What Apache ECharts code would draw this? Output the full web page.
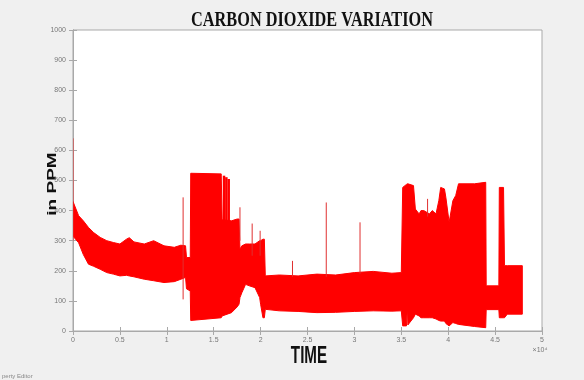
<!DOCTYPE html>
<html>
<head>
<meta charset="utf-8">
<script src="https://cdn.jsdelivr.net/npm/echarts@6/dist/echarts.min.js"></script>
<style>
  html, body { margin: 0; padding: 0; background: #f0f0f0; }
  #chart { width: 584px; height: 380px; }
</style>
</head>
<body>
<div id="chart"></div>
<script>
// envelope of the CO2 trace (time in raw units, ppm)
const times = [0, 600, 1100, 1650, 2200, 2900, 3600, 4300, 5000, 5700, 6000, 6500, 7600, 8600, 9700, 10800, 11500, 12000, 12100, 12500,
  12550, 15800, 15900, 16900, 17500, 17700, 17800, 18000, 18400, 18800, 19400, 19900, 20000, 20250, 20400, 20500,
  22000, 24000, 26000, 28000, 30000, 32000, 34000, 35000,
  35150, 35550, 35650, 35700, 36300, 36500, 36900, 37100, 37400, 38000, 38300, 38700, 39000, 39200, 39600, 39750, 40100,
  40500, 40800, 41100, 42800, 44000, 44050, 45400, 45450, 45900, 46000, 46300, 47900];
const upperPpm = [430, 383, 366, 344, 327, 311, 300, 294, 289, 305, 310, 296, 289, 300, 283, 278, 285, 283, 244, 244,
  524, 522, 370, 366, 372, 372, 272, 283, 289, 289, 289, 300, 300, 305, 305, 183,
  186, 183, 189, 186, 194, 198, 192, 194,
  477, 487, 489, 489, 483, 405, 389, 400, 400, 389, 400, 389, 433, 477, 472, 444, 361,
  433, 450, 489, 489, 494, 150, 150, 477, 477, 217, 217, 217];
const lowerPpm = [315, 293, 254, 222, 215, 205, 194, 189, 183, 185, 183, 180, 172, 167, 161, 164, 172, 178, 140, 133,
  35, 44, 50, 61, 80, 89, 111, 127, 155, 150, 144, 111, 89, 44, 44, 72,
  67, 65, 61, 62, 65, 67, 66, 67,
  17, 17, 85, 20, 44, 56, 50, 44, 44, 44, 44, 40, 35, 33, 33, 25, 17,
  28, 25, 22, 15, 11, 71, 71, 44, 44, 44, 56, 56];

// thin isolated spikes: [time, low, high]
const spikes = [
  [0, 300, 640], [11740, 105, 444], [17800, 300, 411], [19100, 250, 357], [19950, 250, 333],
  [23400, 180, 233], [27000, 180, 427], [30600, 190, 361], [37800, 380, 439]
];
// the heavier bursts just after the 520 ppm block
const bursts = [[16100, 300, 516], [16350, 300, 511], [16600, 300, 505]];

const chart = echarts.init(document.getElementById("chart"), null, { renderer: "canvas" });

const axisGray = "#a9a9a9";
const labelStyle = { fontSize: 7, color: "#777", fontFamily: "Liberation Sans" };

const spikeSeries = (data, color, width) => ({
  type: "custom",
  xAxisIndex: 0,
  yAxisIndex: 0,
  clip: true,
  data: data,
  renderItem: (params, api) => {
    const a = api.coord([api.value(0), api.value(1)]);
    const b = api.coord([api.value(0), api.value(2)]);
    return {
      type: "line",
      shape: { x1: a[0], y1: a[1], x2: b[0], y2: b[1] },
      style: { stroke: color, lineWidth: width },
    };
  },
});

const option = {
  backgroundColor: "#f0f0f0",
  animation: false,
  grid: {
    left: 73, right: 42, top: 30, bottom: 49,
    show: true, backgroundColor: "#fff", borderColor: axisGray, borderWidth: 1,
  },
  xAxis: [
    {
      type: "value", position: "bottom", min: 0, max: 50000, interval: 5000,
      axisLine: { lineStyle: { color: axisGray } },
      axisTick: { inside: true, length: 4, lineStyle: { color: axisGray } },
      axisLabel: { ...labelStyle, margin: 6, formatter: (v) => String(v / 10000) },
      splitLine: { show: false },
    },
    {
      type: "value", position: "top", min: 0, max: 50000, interval: 5000,
      axisLine: { lineStyle: { color: axisGray } },
      axisTick: { inside: true, length: 4, lineStyle: { color: axisGray } },
      axisLabel: { show: false },
      splitLine: { show: false },
    },
  ],
  yAxis: [
    {
      type: "value", position: "left", min: 0, max: 1000, interval: 100,
      axisLine: { show: true, lineStyle: { color: axisGray } },
      axisTick: { show: true, inside: true, length: 4, lineStyle: { color: axisGray } },
      axisLabel: { ...labelStyle, margin: 7, formatter: (v) => String(v) },
      splitLine: { show: false },
    },
    {
      type: "value", position: "right", min: 0, max: 1000, interval: 100,
      axisLine: { show: true, lineStyle: { color: axisGray } },
      axisTick: { show: true, inside: true, length: 4, lineStyle: { color: axisGray } },
      axisLabel: { show: false },
      splitLine: { show: false },
    },
  ],
  series: [
    {
      // filled band between the upper and lower envelope
      type: "custom",
      xAxisIndex: 0,
      yAxisIndex: 0,
      clip: true,
      data: [[0, 0]],
      renderItem: (params, api) => {
        const pts = [];
        for (let i = 0; i < times.length; i++) pts.push(api.coord([times[i], upperPpm[i]]));
        for (let i = times.length - 1; i >= 0; i--) pts.push(api.coord([times[i], lowerPpm[i]]));
        return {
          type: "polygon",
          shape: { points: pts },
          style: { fill: "#ff0000", stroke: "#ff0000", lineWidth: 1 },
        };
      },
    },
    spikeSeries(spikes, "#e03030", 1),
    spikeSeries(bursts, "#ff0000", 2.5),
  ],
  graphic: [
    {
      type: "text", x: 312, y: 20, scaleX: 0.74,
      style: {
        text: "CARBON DIOXIDE VARIATION", font: 'bold 22px "Liberation Serif"',
        fill: "#111", textAlign: "center", textVerticalAlign: "middle",
      },
    },
    {
      type: "text", x: 52, y: 184, rotation: Math.PI / 2, scaleY: 0.72,
      style: {
        text: "in PPM", font: 'bold 19px "Liberation Sans"',
        fill: "#111", textAlign: "center", textVerticalAlign: "middle",
      },
    },
    {
      type: "text", x: 309, y: 357, scaleX: 0.66,
      style: {
        text: "TIME", font: 'bold 23px "Liberation Sans"',
        fill: "#111", textAlign: "center", textVerticalAlign: "middle",
      },
    },
    {
      type: "text", x: 540, y: 350,
      style: {
        text: "×10⁴", font: '7px "Liberation Sans"',
        fill: "#777", textAlign: "center", textVerticalAlign: "middle",
      },
    },
    {
      type: "text", x: 2, y: 376,
      style: {
        text: "perty Editor", font: '6px "Liberation Sans"',
        fill: "#888", textAlign: "left", textVerticalAlign: "middle",
      },
    },
  ],
};

chart.setOption(option);
</script>
</body>
</html>
